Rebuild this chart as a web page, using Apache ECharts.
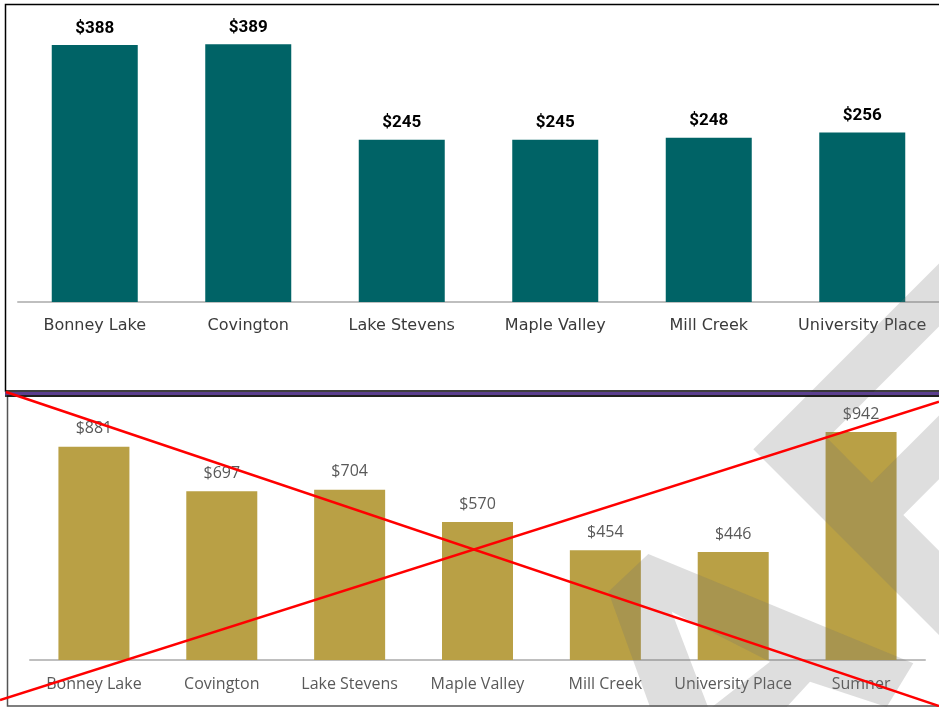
<!DOCTYPE html>
<html>
<head>
<meta charset="utf-8">
<script src="https://cdn.jsdelivr.net/npm/echarts@6/dist/echarts.min.js"></script>
<style>
  html, body { margin: 0; padding: 0; background: #fff; }
  #main { width: 939px; height: 707px; }
</style>
</head>
<body>
<div id="main"></div>
<script>
// top chart data
var topCats = ['Bonney Lake', 'Covington', 'Lake Stevens', 'Maple Valley', 'Mill Creek', 'University Place'];
var topValues = [388, 389, 245, 245, 248, 256];
// bottom chart data
var bottomCats = ['Bonney Lake', 'Covington', 'Lake Stevens', 'Maple Valley', 'Mill Creek', 'University Place', 'Sumner'];
var bottomValues = [881, 697, 704, 570, 454, 446, 942];

var myChart = echarts.init(document.getElementById('main'));

var shade = 'rgba(111,111,111,0.23)';

myChart.setOption({
    animation: false,
    grid: [
        {left: 18, top: 37, width: 922, height: 265},
        {left: 30, top: 418, width: 895, height: 242}
    ],
    xAxis: [
        {
            type: 'category', gridIndex: 0, data: topCats,
            axisLine: {lineStyle: {color: '#bfbfbf', width: 2}},
            axisTick: {show: false},
            axisLabel: {interval: 0, margin: 16, color: '#3a3a3a', fontSize: 16, fontFamily: 'DejaVu Sans'}
        },
        {
            type: 'category', gridIndex: 1, data: bottomCats,
            axisLine: {lineStyle: {color: '#bfbfbf', width: 2}},
            axisTick: {show: false},
            axisLabel: {interval: 0, margin: 16, color: '#595959', fontSize: 16, fontFamily: 'Open Sans'}
        }
    ],
    yAxis: [
        {type: 'value', gridIndex: 0, min: 0, max: 400, show: false, splitLine: {show: false}},
        {type: 'value', gridIndex: 1, min: 0, max: 1000, show: false, splitLine: {show: false}}
    ],
    series: [
        {
            type: 'bar', xAxisIndex: 0, yAxisIndex: 0, data: topValues,
            barWidth: 86,
            itemStyle: {color: '#006366'},
            label: {
                show: true, position: 'top', distance: 8,
                formatter: function (p) { return '$' + p.value; },
                color: '#000', fontSize: 17, fontWeight: 'bold', fontFamily: 'Roboto'
            }
        },
        {
            type: 'bar', xAxisIndex: 1, yAxisIndex: 1, data: bottomValues,
            barWidth: 71,
            itemStyle: {color: '#b9a045'},
            label: {
                show: true, position: 'top', distance: 10,
                formatter: function (p) { return '$' + p.value; },
                color: '#595959', fontSize: 16, fontFamily: 'Open Sans'
            }
        }
    ],
    graphic: [
        // watermark shapes
        {
            type: 'polygon', z: 100, silent: true,
            shape: {points: [[945, 257.6], [753.3, 449.3], [945, 641], [945, 556.7], [903.3, 515],
                [945, 473.3], [945, 409.4], [871.7, 482.7], [827.3, 438.3], [945, 320.6]]},
            style: {fill: shade}
        },
        {
            type: 'polygon', z: 100, silent: true,
            shape: {points: [[648.3, 554], [913.3, 663.3], [886.7, 707], [810, 681.7], [786.7, 707],
                [712, 707], [770, 661.7], [671.7, 611.7], [708, 707], [650, 707], [608.3, 591.7]]},
            style: {fill: shade}
        },
        // panel frames
        {
            type: 'rect', z: 105, silent: true,
            shape: {x: 5.5, y: 4.5, width: 940, height: 386.5},
            style: {fill: null, stroke: '#000', lineWidth: 1.5}
        },
        {
            type: 'rect', z: 105, silent: true,
            shape: {x: 5, y: 392, width: 940, height: 3},
            style: {fill: '#5b3f8f'}
        },
        {
            type: 'rect', z: 105, silent: true,
            shape: {x: 7.5, y: 396, width: 940, height: 310},
            style: {fill: null, stroke: '#555', lineWidth: 1.5}
        },
        {
            type: 'line', z: 106, silent: true,
            shape: {x1: 5, y1: 396, x2: 945, y2: 396},
            style: {stroke: '#000', lineWidth: 1.5}
        },
        // red cross
        {
            type: 'line', z: 110, silent: true,
            shape: {x1: 6, y1: 392, x2: 939, y2: 706},
            style: {stroke: '#ff0000', lineWidth: 2.5}
        },
        {
            type: 'line', z: 110, silent: true,
            shape: {x1: 0, y1: 700, x2: 939, y2: 401.7},
            style: {stroke: '#ff0000', lineWidth: 2.5}
        }
    ]
});
window.onresize = myChart.resize;
</script>
</body>
</html>
